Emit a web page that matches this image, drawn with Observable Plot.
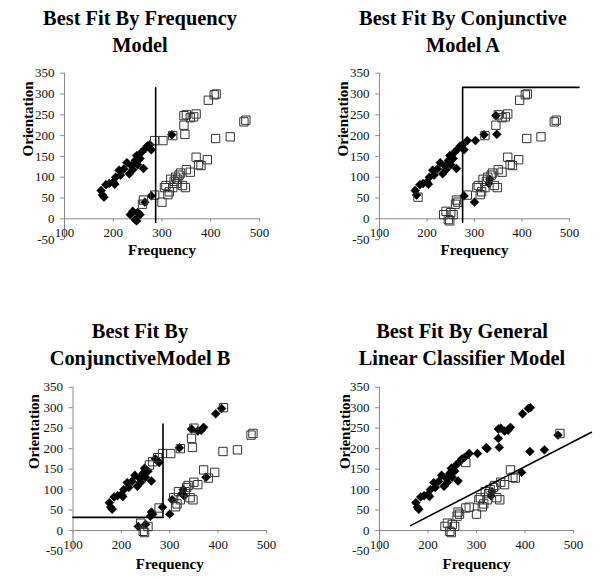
<!DOCTYPE html>
<html><head><meta charset="utf-8">
<script src="https://cdn.jsdelivr.net/npm/d3@7"></script>
<script src="https://cdn.jsdelivr.net/npm/@observablehq/plot@0.6"></script>
<style>
body{margin:0;background:#fff;}
#root{position:relative;width:600px;height:579px;overflow:hidden;font-family:"Liberation Serif",serif;}
.title{position:absolute;width:300px;text-align:center;font-family:"Liberation Serif",serif;font-weight:bold;font-size:20.4px;line-height:27px;color:#000;white-space:nowrap;}
.panel{position:absolute;}
.panel svg{overflow:visible;font-family:"Liberation Serif",serif;}
</style></head><body><div id="root"></div>
<script>
// Stimuli (frequency, orientation): upper band then lower band
const freq = [
  175,178,181,185,192, 200,203,205,212,215, 222,228,233,238,240, 245,248,250,255,258,
  262,265,270,275,278, 285,302,320,322,345, 347,345,350,358,365, 370,395,407,411,410,
  440,468,472,
  235,240,245,248,250, 255,260,262,265,278, 285,300,305,308,312, 315,318,322,325,328,
  330,332,335,338,342, 348,350,358,370,375, 380,393
];
const orient = [
  68,57,52,82,85, 88,83,100,117,105, 120,135,108,127,118, 140,152,130,145,160,
  121,168,175,178,166, 188,188,202,200,225, 203,248,250,243,245, 252,285,298,300,193,
  197,233,237,
  10,18,-2,-5,15, 10,35,45,40,55, 57,40,75,80,58, 65,95,75,90,100,
  85,95,105,110,80, 75,118,112,148,130, 128,142
];
// Responses per panel: 1 = filled diamond, 0 = open square
const respFrequency = [
  1,1,1,1,1, 1,1,1,1,1, 1,1,1,1,1, 1,1,1,1,1, 1,1,1,1,1, 0,0,1,0,0, 0,0,0,0,0, 0,0,0,0,0, 0,0,0,
  1,1,1,1,1, 1,0,0,1,1, 0,0,0,0,0, 0,0,0,0,0, 0,0,0,0,0, 0,0,0,0,0, 0,0
];
const respConjA = [
  1,1,0,1,1, 1,1,1,1,1, 1,1,1,1,1, 1,1,1,1,1, 1,1,1,1,1, 1,1,1,0,0, 1,1,0,0,0, 0,0,0,0,0, 0,0,0,
  0,0,0,0,0, 0,0,0,0,1, 0,1,0,0,0, 0,0,0,0,0, 1,1,0,0,0, 0,0,0,0,0, 0,0
];
const respConjB = [
  1,1,1,1,1, 1,1,1,1,1, 1,1,1,1,1, 1,1,1,1,0, 1,0,1,0,1, 0,0,1,0,0, 0,1,0,1,1, 1,1,1,0,0, 0,0,0,
  1,0,0,0,1, 0,1,1,1,0, 1,1,1,0,0, 0,0,0,1,1, 1,0,0,0,0, 0,0,0,0,1, 0,0
];
const respGLC = [
  1,1,1,1,1, 1,1,1,1,1, 1,1,1,1,1, 1,1,1,1,1, 1,1,1,1,0, 1,1,1,1,1, 1,1,1,1,1, 1,1,1,1,1, 1,1,0,
  0,0,0,0,0, 0,0,0,0,0, 0,0,0,0,0, 0,0,0,0,0, 1,1,0,0,0, 0,0,0,0,0, 0,1
];
// Decision boundaries
const freqBoundX = [287, 287],      freqBoundY = [-8, 315];
const conjABoundX = [275, 275, 520], conjABoundY = [-8, 316, 316];
const conjBBoundX = [100, 286, 286], conjBBoundY = [32, 32, 260];
const glcBoundX = [164, 537],        glcBoundY = [12, 240];
// Axes
const xTicks = [100, 200, 300, 400, 500];
const yTicks = [-50, 0, 50, 100, 150, 200, 250, 300, 350];
const titles = [
  ["Best Fit By Frequency", "Model"],
  ["Best Fit By Conjunctive", "Model A"],
  ["Best Fit By", "ConjunctiveModel B"],
  ["Best Fit By General", "Linear Classifier Model"]
];

const FONT = '"Liberation Serif", serif';
const root = document.getElementById("root");

function addTitle(lines, left, top) {
  const d = document.createElement("div");
  d.className = "title";
  d.style.left = left + "px";
  d.style.top = top + "px";
  d.innerHTML = lines.join("<br>");
  root.appendChild(d);
}

function panel(o) {
  const pts = freq.map((f, i) => ({f, o: orient[i], r: o.resp[i]}));
  const bound = o.bx.map((x, i) => ({x, y: o.by[i]}));
  const svg = Plot.plot({
    width: 300, height: o.height,
    marginLeft: o.mL, marginRight: o.mR, marginTop: o.mT, marginBottom: o.mB,
    x: {domain: [100, 500], axis: null},
    y: {domain: [-50, 350], axis: null},
    style: {fontFamily: FONT, background: "transparent", color: "#111"},
    marks: [
      Plot.ruleX([100], {y1: -50, y2: 350, stroke: "#8a8a8a"}),
      Plot.ruleY([0], {x1: 100, x2: 500, stroke: "#8a8a8a"}),
      Plot.ruleY(yTicks, {y: d => d, x1: 100, x2: 92, stroke: "#8a8a8a"}),
      Plot.ruleX(xTicks, {x: d => d, y1: 0, y2: -8, stroke: "#8a8a8a"}),
      Plot.text(yTicks, {x: 100, y: d => d, text: d => String(d), dx: -10, textAnchor: "end", fontSize: 13, fontFamily: FONT, fill: "#111"}),
      Plot.text(xTicks, {x: d => d, y: 0, text: d => String(d), dy: 14, fontSize: 13, fontFamily: FONT, fill: "#111"}),
      Plot.dot(pts.filter(d => d.r === 1), {x: "f", y: "o", symbol: "diamond2", r: 4.0, fill: "#000", stroke: "#000", strokeWidth: 0.5}),
      Plot.dot(pts.filter(d => d.r === 0), {x: "f", y: "o", symbol: "square", r: 4.7, fill: "none", stroke: "#333", strokeWidth: 1}),
      Plot.line(bound, {x: "x", y: "y", stroke: "#000", strokeWidth: 1.6}),
      Plot.text(["Orientation"], {frameAnchor: "left", dx: o.yLabDx, rotate: -90, fontWeight: "bold", fontSize: 15, fontFamily: FONT, fill: "#000"}),
      Plot.text(["Frequency"], {frameAnchor: "bottom", dy: o.xLabDy, lineAnchor: "middle", fontWeight: "bold", fontSize: 15, fontFamily: FONT, fill: "#000"})
    ]
  });
  const wrap = document.createElement("div");
  wrap.className = "panel";
  wrap.style.left = o.left + "px";
  wrap.style.top = o.top + "px";
  wrap.appendChild(svg);
  root.appendChild(wrap);
}

addTitle(titles[0], -10, 5);
addTitle(titles[1], 313, 5);
addTitle(titles[2], -10, 318);
addTitle(titles[3], 312, 318);

panel({left: 0, top: 55, height: 215, mL: 64, mR: 41, mT: 17.7, mB: 30.9, resp: respFrequency, bx: freqBoundX, by: freqBoundY, yLabDx: -36.5, xLabDy: 11});
panel({left: 300, top: 55, height: 215, mL: 79, mR: 31, mT: 17.7, mB: 30.9, resp: respConjA, bx: conjABoundX, by: conjABoundY, yLabDx: -36, xLabDy: 11});
panel({left: 0, top: 368, height: 211, mL: 72.5, mR: 34, mT: 18.7, mB: 28.5, resp: respConjB, bx: conjBBoundX, by: conjBBoundY, yLabDx: -38.5, xLabDy: 13});
panel({left: 300, top: 368, height: 211, mL: 79, mR: 27, mT: 18.7, mB: 28.5, resp: respGLC, bx: glcBoundX, by: glcBoundY, yLabDx: -34, xLabDy: 13});
</script></body></html>
